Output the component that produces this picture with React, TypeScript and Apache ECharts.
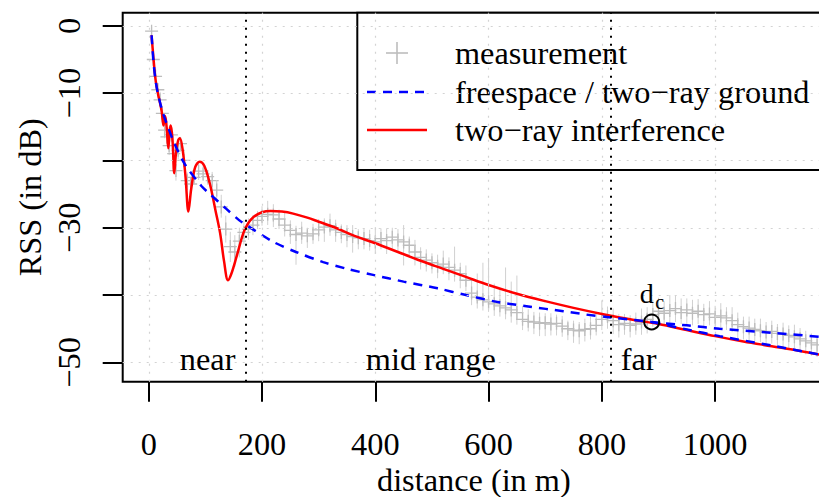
import React, { useEffect, useRef } from "react";
import * as echarts from "echarts";

// ---------- data ----------
const measDist = [
  5, 8, 12, 16, 20, 24, 28, 32, 36, 40, 44, 48, 52, 56, 62, 68, 74, 80, 88, 96, 104, 112, 120, 128, 136, 144, 152, 160, 168, 176, 184, 192,
  200, 210, 220, 230, 240, 250, 260, 270, 280, 290,
  300, 310, 320, 330, 340, 350, 360, 370, 380, 390,
  400, 410, 420, 430, 440, 450, 460, 470, 480, 490,
  500, 510, 520, 530, 540, 550, 560, 570, 580, 590,
  600, 610, 620, 630, 640, 650, 660, 670, 680, 690,
  700, 710, 720, 730, 740, 750, 760, 770, 780, 790,
  800, 810, 820, 830, 840, 850, 860, 870, 880, 890,
  900, 910, 920, 930, 940, 950, 960, 970, 980, 990,
  1000, 1010, 1020, 1030, 1040, 1050, 1060, 1070, 1080, 1090,
  1100, 1110, 1120, 1130, 1140, 1150, 1160, 1170, 1180,
];
const measRss = [
  -0.8, -5, -7.5, -9.5, -11, -13, -15.5, -16.5, -17.8, -16.2, -19, -21.5, -18.5, -17.5, -20, -23, -23.5, -22.5, -21.6, -22, -22.4, -23, -24.4, -26.9, -30.2, -32.8, -33.6, -32, -30.7, -30.2, -29.6, -28.9,
  -28.3, -28.0, -28.1, -28.7, -29.6, -30.4, -31.0, -30.8, -31.2, -30.9,
  -30.3, -29.9, -29.7, -30.3, -30.7, -31.0, -31.3, -31.5, -31.6, -31.9,
  -32.1, -31.6, -31.9, -31.4, -31.8, -32.1, -32.6, -33.6, -34.4, -34.8,
  -35.2, -35.7, -35.4, -35.9, -36.3, -36.8, -37.8, -39.7, -40.3, -40.7,
  -41.0, -41.3, -41.6, -41.9, -42.2, -42.6, -43.6, -43.9, -44.0, -44.2,
  -44.1, -44.3, -44.2, -44.6, -45.0, -45.2, -45.3, -45.1, -45.0, -44.5,
  -43.6, -43.2, -43.8, -44.4, -44.2, -44.5, -44.3, -44.0, -43.6, -42.9,
  -42.4, -42.7, -42.3, -42.0, -42.6, -42.2, -42.7, -42.4, -42.9, -42.8,
  -43.3, -43.1, -43.4, -43.8, -44.4, -44.7, -44.9, -45.1, -45.3, -45.5,
  -45.4, -45.7, -45.8, -46.0, -46.2, -46.5, -46.8, -47.1, -47.4,
];
const measErrUp = [
  0.6, 0.8, 1, 1, 1.2, 1, 1.2, 1.5, 1.2, 1, 1.3, 1.5, 1.2, 1, 1.4, 1.2, 1, 1.3, 1.1, 1.2, 1, 1.3, 1.5, 1.8, 2, 2.2, 2.5, 2, 1.8, 1.6, 1.5, 1.4,
  1.5, 2, 1.6, 1.4, 1.8, 1.5, 1.3, 1.7, 1.2, 1.5,
  1.6, 1.3, 1.8, 1.5, 1.2, 1.4, 1.7, 1.3, 1.5, 1.6,
  2.2, 1.5, 1.8, 1.4, 1.6, 2.5, 1.3, 1.8, 1.5, 1.6,
  1.4, 1.7, 2, 1.5, 3.5, 1.6, 2.2, 1.8, 3.5, 5.5,
  6.5, 3, 2.5, 6, 4.2, 5.5, 2, 1.8, 1.5, 1.6,
  1.4, 1.6, 1.3, 1.5, 1.2, 1.4, 1.3, 1.6, 1.8, 2,
  2.8, 1.5, 1.8, 1.6, 1.4, 1.5, 1.7, 2, 1.8, 2.2,
  2, 1.8, 2.3, 1.9, 2.1, 1.7, 2, 1.8, 1.6, 1.9,
  1.7, 1.9, 1.6, 2, 1.8, 1.5, 1.7, 1.6, 1.8, 1.5,
  1.6, 1.4, 1.7, 1.5, 1.8, 1.6, 1.5, 1.4, 1.3,
];
const measErrDown = [
  0.6, 0.8, 1, 1.2, 1, 1.3, 1.2, 1, 1.4, 1.1, 1.2, 1.5, 1.3, 1.2, 1, 1.4, 1.2, 1.1, 1.3, 1, 1.2, 1.4, 1.5, 1.6, 2, 2.3, 2.2, 2.4, 1.8, 1.6, 1.5, 1.3,
  1.4, 1.6, 1.8, 1.5, 1.7, 2, 4.5, 1.6, 1.8, 1.5,
  1.7, 2.2, 1.5, 1.8, 1.6, 1.9, 2.4, 1.7, 1.6, 1.5,
  1.8, 1.6, 2, 1.7, 1.9, 3.5, 1.6, 2, 1.8, 1.7,
  1.6, 1.8, 1.5, 1.9, 1.7, 2.2, 1.6, 1.8, 1.7, 1.6,
  1.5, 1.8, 1.6, 1.7, 1.9, 1.8, 1.6, 1.5, 1.8, 1.9,
  2, 1.7, 1.8, 1.6, 1.7, 1.9, 2, 1.8, 1.6, 1.5,
  1.6, 1.8, 2, 1.9, 1.7, 1.8, 1.6, 1.9, 2.1, 1.8,
  1.7, 1.9, 1.8, 2, 1.7, 2.1, 1.8, 1.9, 2, 1.7,
  1.9, 2, 1.8, 1.7, 2.1, 1.9, 2, 1.8, 1.7, 2,
  1.8, 1.7, 1.9, 2, 1.7, 1.8, 2, 1.9, 1.8,
];

const interfDist = [
  5, 8, 12, 16, 20, 23, 26, 29, 32, 34.5, 37, 39, 42, 45, 48, 52, 55, 60, 65, 70,
  75, 82, 90, 98, 108, 118, 126, 133, 140, 146, 155, 167, 175, 185, 200, 215, 235, 255, 280, 300,
  330, 360, 400, 440, 480, 520, 560, 600, 650, 700, 750, 800, 850, 900, 950, 1000, 1050, 1100, 1150, 1200,
];
const interfRss = [
  -1.4, -4.5, -8, -10, -11.5, -12.8, -14.8, -13.4, -15.5, -18.2, -15.5, -14.8, -17, -21.9, -19, -17, -16.7, -18.5, -22.5, -27.6,
  -24.2, -21, -20.2, -20.8, -23.5, -27.5, -30.8, -35, -37.8, -36.8, -34.3, -30.8, -29.4, -28.4, -27.7, -27.5, -27.6, -27.9, -28.5, -29.1,
  -30, -31.1, -32.3, -33.6, -34.9, -36.1, -37.3, -38.5, -39.8, -40.9, -41.9, -42.8, -43.6, -44.3, -45.2, -46.1, -46.9, -47.6, -48.3, -49.1,
];

const freeDist = [5, 8, 12, 17, 25, 35, 45, 64, 93, 108, 137, 160, 176, 220, 260, 308, 350, 396, 450, 510, 560, 614, 670, 732, 790, 826, 888, 950, 1008, 1100, 1200];
const freeRss = [-1.4, -5, -8.1, -10.4, -12.9, -15.3, -17.4, -20.6, -23.8, -25, -27.2, -28.9, -29.8, -32.1, -33.6, -35.1, -36.1, -37, -38, -39, -40, -41, -41.7, -42.4, -43.1, -43.4, -44, -44.5, -45, -45.6, -46.3];

const groundDist = [888, 950, 1008, 1100, 1200];
const groundRss = [-44, -45.1, -46.1, -47.5, -49.1];

const xTicks = [0, 200, 400, 600, 800, 1000];
const yTicks = [0, -10, -20, -30, -40, -50];
const yLabelTicks = [0, -10, -30, -50];
const gridX = [0, 200, 400, 600, 800, 1000, 1200];
const gridY = [0, -10, -20, -30, -40, -50];

const regionBounds = [172, 815];
const regionNames = ["near", "mid range", "far"];
const regionLabelX = [104, 498, 865];
const regionLabelY = -49.5;
const criticalDistance = [888, -44];

const legendNames = ["measurement", "freespace / two\u2212ray ground", "two\u2212ray interference"];

// ---------- styling ----------
const FONT = "'Liberation Serif', 'Times New Roman', 'DejaVu Serif', serif";
const FS = 32.3;
const GRAY = "#bdbdbd";
const xMin = -46;
const xMax = 1194;
const yMin = -52.87;
const yMax = 1.95;

const minus = (v: number | string) => String(v).replace("-", "\u2212");

export default function App() {
  const ref = useRef<HTMLDivElement>(null);

  useEffect(() => {
    if (!ref.current) return;
    const chart = echarts.init(ref.current, undefined, { renderer: "svg" });

    const measData = measDist.map((d, i) => [d, measRss[i], measErrUp[i] ?? 0, measErrDown[i] ?? 0]);
    const pair = (xs: number[], ys: number[]) => xs.map((x, i) => [x, ys[i]]);
    const txt = { fontSize: FS, fontFamily: FONT, color: "#000", textBorderWidth: 0, opacity: 1 };

    const option: any = {
      animation: false,
      backgroundColor: "#fff",
      grid: {
        left: 122.7,
        top: 12.7,
        right: -6,
        bottom: 115.3,
        show: true,
        borderColor: "#000",
        borderWidth: 2,
        backgroundColor: "transparent",
        containLabel: false,
        outerBoundsMode: "none",
      },
      xAxis: {
        type: "value",
        position: "bottom",
        min: xMin,
        max: xMax,
        name: "distance (in m)",
        nameLocation: "middle",
        nameGap: 82,
        nameMoveOverlap: false,
        nameTextStyle: { fontSize: FS, fontFamily: FONT, color: "#000" },
        axisLine: { show: false, onZero: false },
        splitLine: { show: false },
        axisTick: { show: true, inside: false, length: 20, customValues: xTicks, lineStyle: { color: "#000", width: 2 } },
        axisLabel: {
          show: true,
          customValues: xTicks,
          margin: 46,
          fontSize: FS,
          fontFamily: FONT,
          color: "#000",
          formatter: (v: number) => minus(v),
        },
      },
      yAxis: {
        type: "value",
        position: "left",
        min: yMin,
        max: yMax,
        name: "RSS (in dB)",
        nameLocation: "middle",
        nameGap: 77,
        nameMoveOverlap: false,
        nameTextStyle: { fontSize: FS, fontFamily: FONT, color: "#000" },
        axisLine: { show: false, onZero: false },
        splitLine: { show: false },
        axisTick: { show: true, inside: false, length: 20, customValues: yTicks, lineStyle: { color: "#000", width: 2 } },
        axisLabel: {
          show: true,
          customValues: yLabelTicks,
          rotate: 90,
          margin: 38,
          fontSize: FS,
          fontFamily: FONT,
          color: "#000",
          hideOverlap: false,
          formatter: (v: number) => minus(v),
        },
      },
      series: [
        {
          name: "helpers",
          type: "line",
          z: 1,
          data: [[xMin - 100, yMin - 100]],
          symbol: "none",
          lineStyle: { opacity: 0 },
          silent: true,
          markLine: {
            silent: true,
            symbol: ["none", "none"],
            label: { show: false },
            lineStyle: { color: "#d3d3d3", type: [2, 6], width: 1.2 },
            data: [
              ...gridX.map((v) => ({ xAxis: v })),
              ...gridY.map((v) => ({ yAxis: v })),
              ...regionBounds.map((v) => ({
                xAxis: v,
                lineStyle: { color: "#000", type: [2, 6], width: 2 },
              })),
            ],
          },
        },
        {
          name: "measurement",
          type: "custom",
          z: 2,
          clip: true,
          data: measData,
          encode: { x: 0, y: 1 },
          renderItem: (params: any, api: any) => {
            const x = api.value(0);
            const y = api.value(1);
            const up = api.value(2);
            const dn = api.value(3);
            const p = api.coord([x, y]);
            const pt = api.coord([x, y + up]);
            const pb = api.coord([x, y - dn]);
            const a = 6.5;
            const st = { stroke: GRAY, lineWidth: 1.3 };
            return {
              type: "group",
              children: [
                { type: "line", shape: { x1: p[0], y1: pt[1], x2: p[0], y2: pb[1] }, style: { stroke: "#d0d0d0", lineWidth: 1 } },
                { type: "line", shape: { x1: p[0] - a, y1: p[1], x2: p[0] + a, y2: p[1] }, style: st },
                { type: "line", shape: { x1: p[0], y1: p[1] - a, x2: p[0], y2: p[1] + a }, style: st },
              ],
            };
          },
        },
        {
          name: "two-ray interference",
          type: "line",
          z: 3,
          data: pair(interfDist, interfRss),
          symbol: "none",
          smooth: 0.35,
          lineStyle: { color: "#ff0000", width: 2.5 },
        },
        {
          name: "freespace",
          type: "line",
          z: 4,
          data: pair(freeDist, freeRss),
          symbol: "none",
          smooth: 0.3,
          lineStyle: { color: "#0000ff", width: 2.5, type: [9, 7] },
        },
        {
          name: "two-ray ground",
          type: "line",
          z: 4,
          data: pair(groundDist, groundRss),
          symbol: "none",
          smooth: 0.3,
          lineStyle: { color: "#0000ff", width: 2.5, type: [9, 7] },
        },
        {
          name: "critical distance",
          type: "scatter",
          z: 5,
          data: [criticalDistance],
          symbol: "circle",
          symbolSize: 15,
          itemStyle: { color: "rgba(0,0,0,0)", borderColor: "#000", borderWidth: 2, opacity: 1 },
          silent: true,
        },
        {
          name: "annotations",
          type: "scatter",
          z: 6,
          symbol: "circle",
          symbolSize: 1,
          itemStyle: { color: "rgba(0,0,0,0)", opacity: 1 },
          silent: true,
          data: [
            ...regionNames.map((n, i) => ({
              name: n,
              value: [regionLabelX[i], regionLabelY],
              label: { show: true, position: "inside", formatter: n, ...txt },
            })),
            {
              name: "d",
              value: criticalDistance,
              label: { show: true, position: "inside", formatter: "d", offset: [-5, -28], ...txt, fontSize: 28 },
            },
            {
              name: "c",
              value: criticalDistance,
              label: { show: true, position: "inside", formatter: "c", offset: [8, -20], ...txt, fontSize: 20 },
            },
          ],
        },
      ],
      graphic: [
        {
          type: "group",
          z: 100,
          children: [
            { type: "rect", shape: { x: 357.3, y: 12.7, width: 470, height: 157.3 }, style: { fill: "#fff", stroke: "#000", lineWidth: 2 } },
            { type: "line", shape: { x1: 386, y1: 53, x2: 408, y2: 53 }, style: { stroke: GRAY, lineWidth: 1.6 } },
            { type: "line", shape: { x1: 397, y1: 42, x2: 397, y2: 64 }, style: { stroke: GRAY, lineWidth: 1.6 } },
            { type: "line", shape: { x1: 367, y1: 92, x2: 425, y2: 92 }, style: { stroke: "#0000ff", lineWidth: 2.5, lineDash: [9, 7] } },
            { type: "line", shape: { x1: 367, y1: 130, x2: 427, y2: 130 }, style: { stroke: "#ff0000", lineWidth: 2.5 } },
            ...legendNames.map((t, i) => ({
              type: "text",
              x: 455,
              y: [53, 91.5, 129.5][i],
              style: { text: t, fontSize: FS, fontFamily: FONT, fill: "#000", verticalAlign: "middle", align: "left" },
            })),
          ],
        },
      ],
    };

    chart.setOption(option);
    return () => chart.dispose();
  }, []);

  return (
    <div
      ref={ref}
      style={{ position: "fixed", left: 0, top: 0, width: 819, height: 497, background: "#fff" }}
    />
  );
}
